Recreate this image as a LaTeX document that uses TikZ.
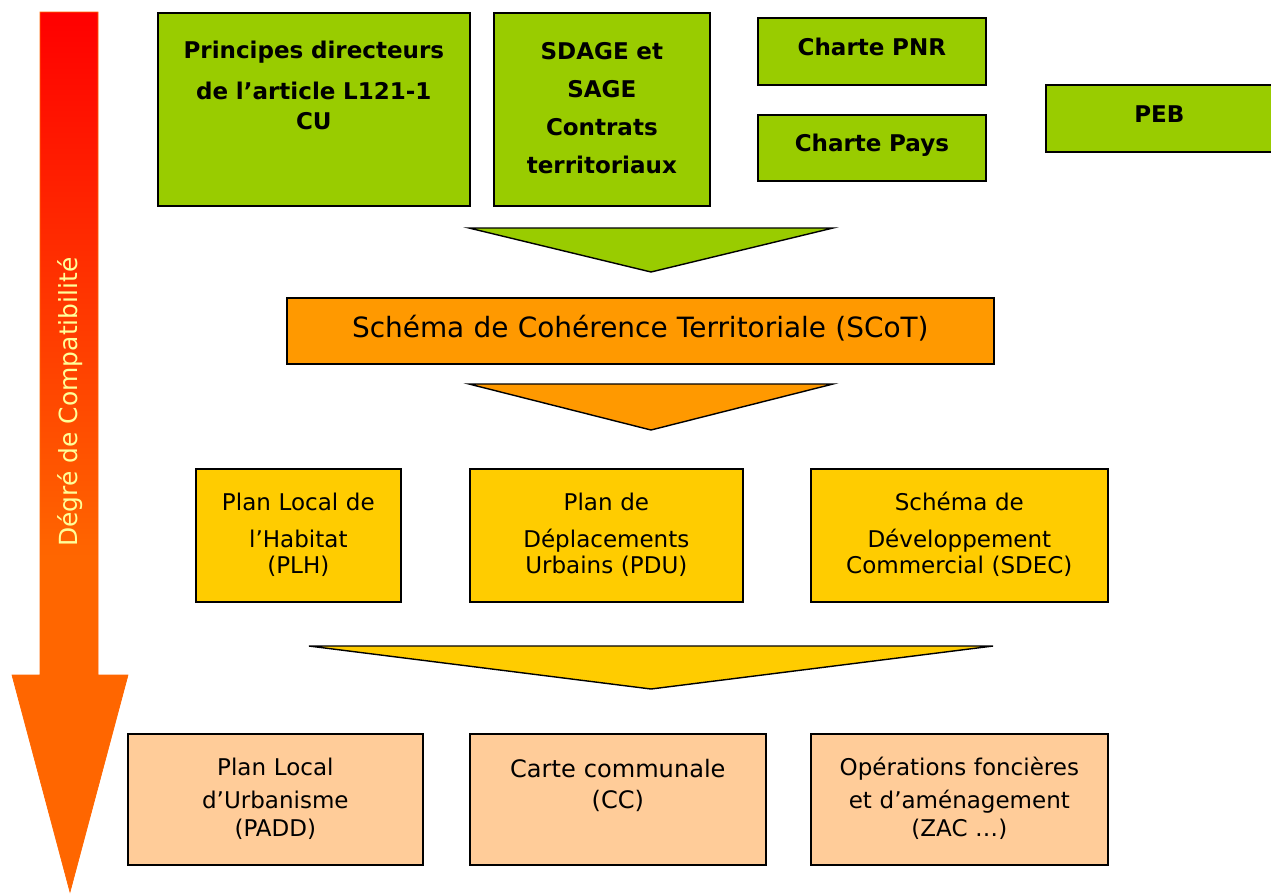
\documentclass[tikz,border=0pt]{standalone}
\usepackage{fontspec}
\setmainfont{DejaVu Sans}
\usepackage{tikz}

\definecolor{pluGreen}{HTML}{99CC00}
\definecolor{pluOrange}{HTML}{FF9900}
\definecolor{pluYellow}{HTML}{FFCC00}
\definecolor{pluPeach}{HTML}{FFCC99}
\definecolor{arrowOrange}{HTML}{FF6600}
\definecolor{labelYellow}{HTML}{FFFF99}

% red at the top of the shaft, plain orange from the lower half on
\pgfdeclareverticalshading{compatShade}{100bp}{color(0bp)=(arrowOrange); color(44bp)=(arrowOrange); color(75bp)=(red); color(100bp)=(red)}

\begin{document}
\begin{tikzpicture}[x=0.02cm, y=-0.02cm,
    box/.style={draw=black, line width=1pt, anchor=north west, inner sep=0pt, align=center},
    topbox/.style={box, fill=pluGreen, font=\fontsize{13.1}{17}\selectfont\bfseries},
    planbox/.style={box, fill=pluYellow, font=\fontsize{13.1}{14.8}\selectfont},
    docbox/.style={box, fill=pluPeach, font=\fontsize{13.1}{15.6}\selectfont},
    wedge/.style={draw=black, line width=0.8pt}]
    \useasboundingbox (0,0) rectangle (1271,894);

    % degree of compatibility arrow
    \shadedraw[shading=compatShade, draw=arrowOrange, line width=0.4pt]
        (40,12) -- (98,12) -- (98,675) -- (128,675) -- (70,892) -- (12,675) -- (40,675) -- cycle;
    \node[rotate=90, text=labelYellow, font=\fontsize{14.2}{17}\selectfont] (degre) at (70,402) {Dégré de Compatibilité};

    % higher level documents
    \node[topbox, text width=6.24cm, text height=0.92cm, text depth=2.94cm] (principes) at (157,12)
        {Principes directeurs\\[6.2pt] de l’article L121-1\\ CU};
    \node[topbox, font=\fontsize{13.1}{21.6}\selectfont\bfseries, text width=4.32cm, text height=0.94cm, text depth=2.92cm] (sdage) at (493,12)
        {SDAGE et\\ SAGE\\ Contrats\\ territoriaux};
    \node[topbox, text width=4.56cm, text height=0.75cm, text depth=0.59cm] (pnr) at (757,17) {Charte PNR};
    \node[topbox, text width=4.56cm, text height=0.73cm, text depth=0.59cm] (pays) at (757,114) {Charte Pays};
    \node[topbox, text width=4.54cm, text height=0.75cm, text depth=0.59cm] (peb) at (1045,84) {PEB};

    \path[wedge, fill=pluGreen] (469,228) -- (833,228) -- (651,272) -- cycle;

    % SCoT
    \node[box, fill=pluOrange, font=\fontsize{15.9}{19}\selectfont, text width=14.14cm, text height=0.80cm, text depth=0.52cm] (scot) at (286,297)
        {Schéma de Cohérence Territoriale (SCoT)};

    \path[wedge, fill=pluOrange] (469,384) -- (833,384) -- (651,430) -- cycle;

    % sector plans
    \node[planbox, text width=4.10cm, text height=0.84cm, text depth=1.82cm] (plh) at (195,468)
        {Plan Local de\\[6.3pt] l’Habitat\\ (PLH)};
    \node[planbox, text width=5.46cm, text height=0.84cm, text depth=1.82cm] (pdu) at (469,468)
        {Plan de\\[6.3pt] Déplacements\\ Urbains (PDU)};
    \node[planbox, text width=5.94cm, text height=0.84cm, text depth=1.82cm] (sdec) at (810,468)
        {Schéma de\\[6.3pt] Développement\\ Commercial (SDEC)};

    \path[wedge, fill=pluYellow] (309,646) -- (993,646) -- (651,689) -- cycle;

    % local documents
    \node[docbox, text width=5.90cm, text height=0.84cm, text depth=1.78cm] (padd) at (127,733)
        {Plan Local\\[3.1pt] d’Urbanisme\\ (PADD)};
    \node[docbox, font=\fontsize{13.7}{17.6}\selectfont, text width=5.92cm, text height=0.88cm, text depth=1.74cm] (cc) at (469,733)
        {Carte communale\\ (CC)};
    \node[docbox, text width=5.94cm, text height=0.84cm, text depth=1.78cm] (zac) at (810,733)
        {Opérations foncières\\[3.1pt] et d’aménagement\\ (ZAC …)};
\end{tikzpicture}
\end{document}
